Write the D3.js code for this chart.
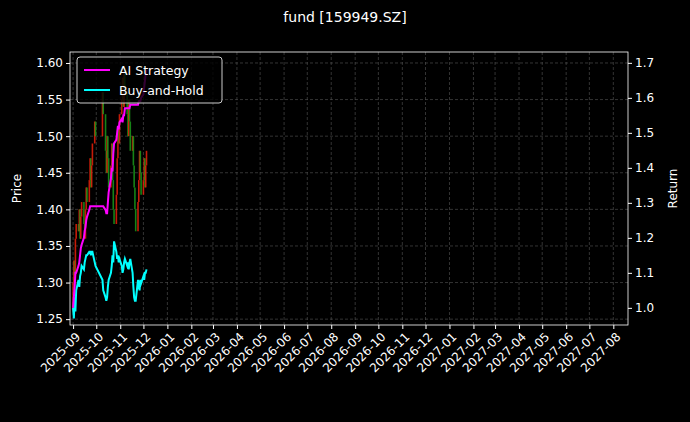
<!DOCTYPE html>
<html><head><meta charset="utf-8">
<script src="https://cdn.jsdelivr.net/npm/d3@7"></script>
<style>body{margin:0;background:#000}svg{display:block}text{font-family:"DejaVu Sans",sans-serif}</style>
</head><body><svg id="c"></svg>
<script>
// trading days
var dates = ["2025-09-01","2025-09-02","2025-09-03","2025-09-04","2025-09-05","2025-09-08","2025-09-09","2025-09-10","2025-09-11","2025-09-12",
"2025-09-15","2025-09-16","2025-09-17","2025-09-18","2025-09-19","2025-09-22","2025-09-23","2025-09-24","2025-09-25","2025-09-26","2025-09-29","2025-09-30",
"2025-10-09","2025-10-10","2025-10-13","2025-10-14","2025-10-15","2025-10-16","2025-10-17","2025-10-20","2025-10-21","2025-10-22","2025-10-23","2025-10-24",
"2025-10-27","2025-10-28","2025-10-29","2025-10-30","2025-10-31","2025-11-03","2025-11-04","2025-11-05","2025-11-06","2025-11-07","2025-11-10","2025-11-11",
"2025-11-12","2025-11-13","2025-11-14","2025-11-17","2025-11-18","2025-11-19","2025-11-20","2025-11-21","2025-11-24","2025-11-25","2025-11-26","2025-11-27",
"2025-11-28","2025-12-01","2025-12-02","2025-12-03","2025-12-04","2025-12-05"];
var closes = [1.30,1.33,1.31,1.36,1.38,1.37,1.40,1.36,1.39,1.41,1.38,1.36,1.40,1.43,1.41,1.44,1.47,1.43,1.46,1.49,1.52,1.50,
1.56,1.53,1.48,1.45,1.50,1.47,1.43,1.46,1.49,1.44,1.40,1.38,1.42,1.47,1.51,1.49,1.53,
1.55,1.58,1.54,1.59,1.56,1.53,1.50,1.55,1.52,1.48,1.50,1.46,1.43,1.40,1.37,1.41,1.44,1.48,1.45,1.42,
1.44,1.47,1.43,1.46,1.48];
var opens = [1.26,1.30,1.33,1.31,1.36,1.38,1.37,1.40,1.36,1.39,1.41,1.38,1.36,1.40,1.43,1.41,1.44,1.47,1.43,1.46,1.49,1.52,
1.50,1.56,1.53,1.48,1.45,1.50,1.47,1.43,1.46,1.49,1.44,1.40,1.38,1.42,1.47,1.51,1.49,
1.53,1.55,1.58,1.54,1.59,1.56,1.53,1.50,1.55,1.52,1.48,1.50,1.46,1.43,1.40,1.37,1.41,1.44,1.48,1.45,
1.42,1.44,1.47,1.43,1.46];
var aiReturn = [1.00,1.03,1.06,1.10,1.10,1.12,1.13,1.15,1.17,1.18,1.20,1.22,1.23,1.25,1.26,1.28,1.29,1.29,1.29,1.29,1.29,1.29,
1.29,1.29,1.28,1.27,1.27,1.30,1.33,1.37,1.40,1.39,1.44,1.47,1.48,1.50,1.52,1.51,1.53,
1.54,1.53,1.55,1.55,1.57,1.57,1.57,1.57,1.57,1.58,1.58,1.58,1.58,1.58,1.58,1.58,1.59,1.59,1.59,1.60,
1.61,1.63,1.65,1.67,1.68];
var bhReturn = [1.00,0.97,1.03,0.99,1.05,1.08,1.06,1.09,1.10,1.12,1.11,1.13,1.14,1.15,1.15,1.16,1.16,1.15,1.16,1.16,1.13,1.12,
1.08,1.05,1.03,1.02,1.03,1.06,1.08,1.10,1.12,1.15,1.13,1.19,1.16,1.14,1.15,1.13,1.14,
1.12,1.10,1.11,1.13,1.14,1.12,1.13,1.11,1.13,1.14,1.10,1.06,1.03,1.02,1.02,1.08,1.06,1.05,1.08,1.07,
1.09,1.08,1.10,1.10,1.11];
var priceTicks = [1.25,1.30,1.35,1.40,1.45,1.50,1.55,1.60];
var returnTicks = [1.0,1.1,1.2,1.3,1.4,1.5,1.6,1.7];

var W = 690, H = 422;
var margin = {top: 52, right: 62, bottom: 97, left: 70},
  width = W - margin.left - margin.right,
  height = H - margin.top - margin.bottom;
var parse = d3.timeParse("%Y-%m-%d");
var dd = dates.map(parse);

var svg = d3.select("#c").attr("width", W).attr("height", H);
svg.append("rect").attr("width", W).attr("height", H).attr("fill", "#000");
var g = svg.append("g").attr("transform", "translate(" + margin.left + "," + margin.top + ")");

var x = d3.scaleTime().domain([parse("2025-08-28"), parse("2027-08-20")]).range([0, width]);
var y = d3.scaleLinear().domain([1.242, 1.615]).range([height, 0]);
var y2 = d3.scaleLinear().domain([0.951, 1.731]).range([height, 0]);
var months = d3.timeMonth.range(parse("2025-09-01"), parse("2027-08-02"));

// grid
g.append("g").selectAll("line").data(months).join("line")
  .attr("x1", d => x(d)).attr("x2", d => x(d)).attr("y1", 0).attr("y2", height);
g.append("g").selectAll("line").data(priceTicks).join("line")
  .attr("x1", 0).attr("x2", width).attr("y1", d => y(d)).attr("y2", d => y(d));
g.selectAll("g line").attr("stroke", "#555").attr("stroke-width", 0.6).attr("stroke-dasharray", "3,2");

// candles
g.append("g").selectAll("line").data(dates).join("line")
  .attr("x1", (d, i) => x(dd[i])).attr("x2", (d, i) => x(dd[i]))
  .attr("y1", (d, i) => y(opens[i])).attr("y2", (d, i) => y(closes[i]))
  .attr("stroke", (d, i) => closes[i] >= opens[i] ? "#e8200a" : "#1a9a1a")
  .attr("stroke-width", 1.6).attr("opacity", 0.85);

var line = d3.line().x((d, i) => x(dd[i])).y(d => y2(d));
g.append("path").attr("d", line(bhReturn)).attr("fill", "none").attr("stroke", "#00ffff").attr("stroke-width", 2);
g.append("path").attr("d", line(aiReturn)).attr("fill", "none").attr("stroke", "#ff00ff").attr("stroke-width", 2);

// axes
function style(a) {
  a.select(".domain").remove();
  a.selectAll("line").attr("stroke", "#fff");
  a.selectAll("text").attr("fill", "#fff").attr("font-size", "12px");
}
g.append("g").call(d3.axisLeft(y).tickValues(priceTicks).tickFormat(d3.format(".2f")).tickSize(4)).call(style);
g.append("g").attr("transform", "translate(" + width + ",0)")
  .call(d3.axisRight(y2).tickValues(returnTicks).tickFormat(d3.format(".1f")).tickSize(4)).call(style);
var xa = g.append("g").attr("transform", "translate(0," + height + ")")
  .call(d3.axisBottom(x).tickValues(months).tickFormat(d3.timeFormat("%Y-%m")).tickSize(4)).call(style);
xa.selectAll("text").attr("text-anchor", "end").attr("dx", "-0.3em").attr("dy", "0.6em")
  .attr("transform", "rotate(-45)");
g.append("rect").attr("width", width).attr("height", height).attr("fill", "none").attr("stroke", "#fff").attr("stroke-width", 0.8);

// labels
svg.append("text").attr("x", W / 2).attr("y", 22).attr("text-anchor", "middle").attr("fill", "#fff").attr("font-size", "14px").text("fund [159949.SZ]");
svg.append("text").attr("transform", "translate(21," + (margin.top + height / 2) + ") rotate(-90)")
  .attr("text-anchor", "middle").attr("fill", "#fff").attr("font-size", "12px").text("Price");
svg.append("text").attr("transform", "translate(677," + (margin.top + height / 2) + ") rotate(-90)")
  .attr("text-anchor", "middle").attr("fill", "#fff").attr("font-size", "12px").text("Return");

// legend
var lg = svg.append("g").attr("transform", "translate(77,57)");
lg.append("rect").attr("width", 145).attr("height", 46).attr("rx", 3).attr("fill", "#000").attr("fill-opacity", 0.8).attr("stroke", "#ccc");
[["AI Strategy", "#ff00ff"], ["Buy-and-Hold", "#00ffff"]].forEach(function (d, i) {
  lg.append("line").attr("x1", 7).attr("x2", 33).attr("y1", 13 + i * 20).attr("y2", 13 + i * 20).attr("stroke", d[1]).attr("stroke-width", 2);
  lg.append("text").attr("x", 42).attr("y", 17.5 + i * 20).attr("fill", "#fff").attr("font-size", "12.5px").text(d[0]);
});
</script></body></html>
